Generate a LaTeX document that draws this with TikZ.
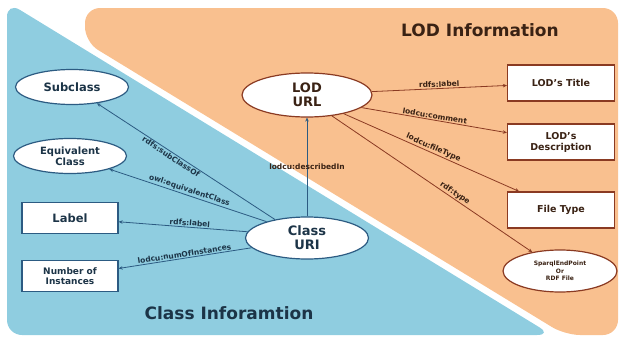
\documentclass[tikz,border=0pt]{standalone}
\usepackage{fontspec}
\setmainfont{DejaVu Sans}
\usepackage{xcolor}
\usetikzlibrary{arrows.meta,shapes.geometric}
\definecolor{skyarea}{HTML}{8FCDE0}
\definecolor{peach}{HTML}{F9C08F}
\definecolor{navy}{HTML}{2C5B82}
\definecolor{rust}{HTML}{8A3A22}
\definecolor{inkblue}{HTML}{1C3447}
\definecolor{inkbrown}{HTML}{3A2214}
\tikzset{
  classell/.style={
    ellipse, draw=navy, fill=white, line width=1.2pt, inner sep=0pt,
    minimum width=113pt, minimum height=35pt, align=center,
    font=\fontsize{11.5}{12.5}\selectfont\bfseries\color{inkblue}},
  lodell/.style={classell, draw=rust, font=\fontsize{13}{14}\selectfont\bfseries\color{inkbrown}},
  classbox/.style={
    draw=navy, fill=white, line width=1.2pt, inner sep=0pt,
    minimum width=96pt, minimum height=31pt, align=center,
    font=\fontsize{11.5}{12.5}\selectfont\bfseries\color{inkblue}},
  lodbox/.style={classbox, draw=rust, minimum width=107pt, minimum height=36pt,
    font=\fontsize{9.5}{11}\selectfont\bfseries\color{inkbrown}},
  classlink/.style={-{Stealth[length=4pt,width=3.5pt]}, line width=0.8pt, color=navy},
  lodlink/.style={-{Stealth[length=4pt,width=3.5pt]}, line width=0.8pt, color=rust},
  prop/.style={font=\fontsize{7.5}{8}\selectfont\bfseries, inner sep=1pt},
  title/.style={font=\fontsize{17}{19}\selectfont\bfseries},
}
\begin{document}
\begin{tikzpicture}[x=1pt, y=-1pt]
  \useasboundingbox (0,0) rectangle (622,340);
  \fill[peach, rounded corners=15pt] (85,8) -- (618,8) -- (618,335) -- (565,335) -- (85,42) -- cycle;
  \fill[skyarea, rounded corners=15pt] (7,2) -- (7,335) -- (552,335) -- cycle;

  \node[title, text=inkbrown] (lodtitle) at (480,30) {LOD Information};
  \node[title, text=inkblue] (classtitle) at (229,313) {Class Inforamtion};

  \node[classell] (subclass) at (72,87) {Subclass};
  \node[classell, font=\fontsize{10}{11}\selectfont\bfseries\color{inkblue}] (equiv) at (70,156) {Equivalent\\Class};
  \node[classbox] (label) at (70,218) {Label};
  \node[classbox, font=\fontsize{9}{10.5}\selectfont\bfseries\color{inkblue}] (numinst) at (70,276) {Number of\\Instances};
  \node[classell, minimum width=123pt, minimum height=42pt,
        font=\fontsize{13}{14}\selectfont\bfseries\color{inkblue}] (classuri) at (307,238) {Class\\URI};

  \node[lodell, minimum width=130pt, minimum height=44pt] (lodurl) at (307,95) {LOD\\URL};
  \node[lodbox] (lodname) at (561,83) {LOD's Title};
  \node[lodbox] (loddesc) at (561,142) {LOD's\\Description};
  \node[lodbox] (filetype) at (561,210) {File Type};
  \node[lodell, minimum width=114pt, minimum height=42pt,
        font=\fontsize{6}{7.5}\selectfont\bfseries\color{inkbrown}] (endpoint) at (560,271) {SparqlEndPoint\\Or\\RDF File};

  \draw[classlink] (classuri.150) -- (subclass) node[prop, text=inkblue, sloped, below, pos=0.57] {rdfs:subClassOf};
  \draw[classlink] (classuri.158) -- (equiv) node[prop, text=inkblue, sloped, above, pos=0.5] {owl:equivalentClass};
  \draw[classlink] (classuri.174) -- (label) node[prop, text=inkblue, sloped, above, pos=0.45] {rdfs:label};
  \draw[classlink] (classuri.190) -- (numinst) node[prop, text=inkblue, sloped, above, pos=0.5] {lodcu:numOfInstances};
  \draw[classlink] (classuri) -- (lodurl) node[prop, text=inkbrown, midway] {lodcu:describedIn};

  \draw[lodlink] (lodurl.3) -- (lodname) node[prop, text=inkbrown, sloped, above, midway] {rdfs:label};
  \draw[lodlink] (lodurl.-13) -- (loddesc) node[prop, text=inkbrown, sloped, above, midway] {lodcu:comment};
  \draw[lodlink] (lodurl.-27) -- (filetype) node[prop, text=inkbrown, sloped, above, pos=0.5] {lodcu:fileType};
  \draw[lodlink] (lodurl.-40) -- (endpoint) node[prop, text=inkbrown, sloped, above, pos=0.6] {rdf:type};
\end{tikzpicture}
\end{document}
